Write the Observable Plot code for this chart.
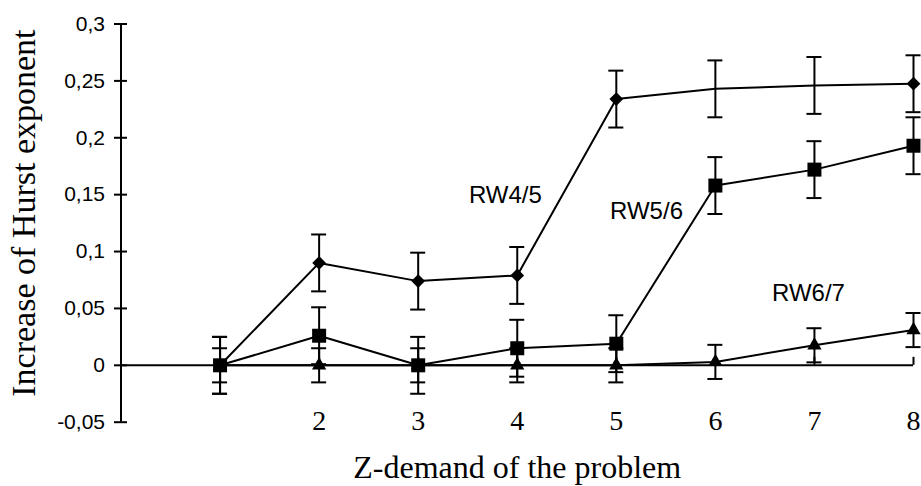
<!DOCTYPE html>
<html><head><meta charset="utf-8">
<script src="https://cdn.jsdelivr.net/npm/d3@7"></script>
<script src="https://cdn.jsdelivr.net/npm/@observablehq/plot@0.6"></script>
<style>
html,body{margin:0;padding:0;background:#fff;}
</style>
</head><body><div id="chart"></div>
<script>
const zDemand = [1, 2, 3, 4, 5, 6, 7, 8];
const rw45 = [0, 0.090, 0.074, 0.079, 0.234, 0.243, 0.246, 0.2475];
const rw56 = [0, 0.026, 0, 0.015, 0.019, 0.158, 0.172, 0.193];
const rw67 = [0, 0, 0, 0, 0, 0.003, 0.0176, 0.031];
const seriesNames = ["RW4/5", "RW5/6", "RW6/7"];
const seriesErrors = [0.025, 0.025, 0.015];
const rw45Marker = [true, true, true, true, true, false, false, true];
const labelX = [3.88, 5.305, 6.94];
const labelY = [0.1497, 0.1356, 0.0629];
const yTicks = [-0.05, 0, 0.05, 0.1, 0.15, 0.2, 0.25, 0.3];
const yTickLabels = ["-0,05", "0", "0,05", "0,1", "0,15", "0,2", "0,25", "0,3"];
const xTicks = [2, 3, 4, 5, 6, 7, 8];
const xTickMarks = [1, 2, 3, 4, 5, 6, 7, 8];
const xTitle = "Z-demand of the problem";
const yTitle = "Increase of Hurst exponent";

const seriesValues = [rw45, rw56, rw67];
const rows = [];
seriesValues.forEach((vals, si) => {
  vals.forEach((v, i) => {
    rows.push({series: seriesNames[si], x: zDemand[i], y: v, e: seriesErrors[si],
      marker: si === 0 ? rw45Marker[i] : true});
  });
});
const labels = seriesNames.map((n, i) => ({name: n, x: labelX[i], y: labelY[i]}));

const serif = "Liberation Serif, Times New Roman, serif";
const sans = "Liberation Sans, Arial, sans-serif";

const chart = Plot.plot({
  width: 921,
  height: 486,
  marginLeft: 120.5,
  marginRight: 8,
  marginTop: 23.5,
  marginBottom: 64.3,
  x: {domain: [0, 8]},
  y: {domain: [-0.05, 0.3]},
  style: {fontFamily: sans, background: "#fff", color: "#000"},
  marks: [
    Plot.ruleX([0], {stroke: "black", strokeWidth: 2}),
    Plot.ruleY([0], {stroke: "black", strokeWidth: 2}),
    Plot.axisY({ticks: yTicks, tickSize: 13, dx: 6.5, tickFormat: () => "", strokeWidth: 2, label: null}),
    Plot.axisY({ticks: yTicks, tickSize: 0, tickPadding: 16, tickFormat: d => yTickLabels[yTicks.indexOf(d)],
      fontSize: 21, fontFamily: sans, label: null}),
    Plot.axisX({ticks: xTicks, anchor: "bottom", tickSize: 0, tickPadding: -1, lineAnchor: "middle",
      fontSize: 28, fontFamily: serif, label: null}),
    Plot.ruleX(xTickMarks, {x: d => d, y1: () => 0, y2: () => 0, insetTop: 0, insetBottom: 8, stroke: "black", strokeWidth: 2}),
    Plot.ruleX(rows, {x: "x", y1: d => d.y - d.e, y2: d => d.y + d.e, stroke: "black", strokeWidth: 2}),
    Plot.ruleY(rows, {x1: "x", x2: "x", y: d => d.y + d.e, insetLeft: -7.5, insetRight: -7.5, stroke: "black", strokeWidth: 2}),
    Plot.ruleY(rows, {x1: "x", x2: "x", y: d => d.y - d.e, insetLeft: -7.5, insetRight: -7.5, stroke: "black", strokeWidth: 2}),
    Plot.line(rows, {x: "x", y: "y", z: "series", stroke: "black", strokeWidth: 2}),
    Plot.dot(rows.filter(d => d.series === "RW4/5" && d.marker), {x: "x", y: "y", symbol: "diamond2", r: 6.2, fill: "black", stroke: "none"}),
    Plot.dot(rows.filter(d => d.series === "RW5/6"), {x: "x", y: "y", symbol: "square", r: 7.9, fill: "black", stroke: "none"}),
    Plot.dot(rows.filter(d => d.series === "RW6/7"), {x: "x", y: "y", symbol: "triangle", r: 5.3, fill: "black", stroke: "none"}),
    Plot.text(labels, {x: "x", y: "y", text: "name", fontSize: 24, fontFamily: sans, fill: "black"}),
    Plot.text([xTitle], {frameAnchor: "bottom", textAnchor: "middle", dy: 46, lineAnchor: "middle", fontSize: 32, fontFamily: serif, fill: "black"}),
    Plot.text([yTitle], {frameAnchor: "left", textAnchor: "middle", rotate: -90, dx: -97, dy: -10, lineAnchor: "middle", fontSize: 34, fontFamily: serif, fill: "black"})
  ]
});
document.getElementById("chart").appendChild(chart);
</script>
</body></html>
